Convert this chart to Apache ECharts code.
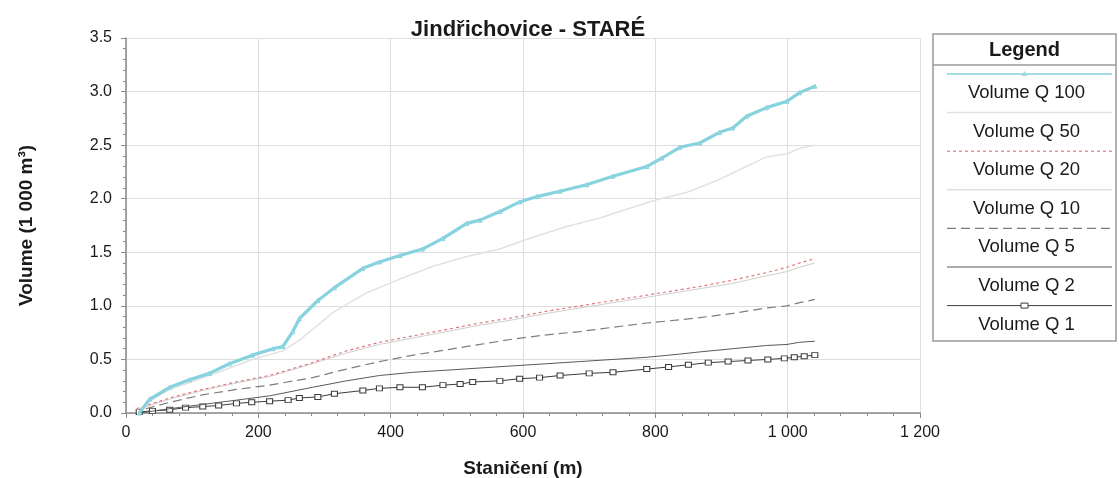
<!DOCTYPE html>
<html>
<head>
<meta charset="utf-8">
<script src="https://cdn.jsdelivr.net/npm/echarts@6/dist/echarts.min.js"></script>
<style>
  html, body { margin: 0; padding: 0; background: #fff; }
  #chart { width: 1119px; height: 478px; }
</style>
</head>
<body>
<div id="chart"></div>
<script>
// Cumulative volume (thousand m³) along the stationing (m)
const q100 = [[20,0.0],[36,0.13],[66,0.24],[96,0.31],[126,0.37],[156,0.46],[191,0.54],[222,0.60],[237,0.62],[252,0.76],[262,0.88],[290,1.05],[315,1.17],[358,1.35],[383,1.41],[414,1.47],[448,1.53],[479,1.63],[515,1.77],[535,1.80],[565,1.88],[595,1.97],[621,2.02],[656,2.07],[696,2.13],[736,2.21],[787,2.30],[810,2.38],[837,2.48],[867,2.52],[897,2.62],[917,2.66],[938,2.77],[968,2.85],[999,2.91],[1018,2.99],[1041,3.05]];
const q50 = [[20,0.0],[36,0.11],[66,0.22],[126,0.35],[191,0.50],[237,0.58],[262,0.68],[290,0.82],[313,0.94],[363,1.12],[414,1.25],[464,1.37],[515,1.46],[565,1.53],[615,1.64],[666,1.74],[716,1.82],[766,1.92],[802,1.99],[848,2.06],[897,2.18],[917,2.24],[968,2.39],[999,2.42],[1018,2.47],[1041,2.50]];
const q20 = [[16,0.04],[66,0.14],[116,0.22],[167,0.29],[217,0.35],[282,0.47],[333,0.58],[383,0.66],[434,0.72],[485,0.78],[535,0.84],[585,0.89],[636,0.95],[686,1.00],[736,1.05],[787,1.10],[837,1.15],[867,1.18],[917,1.24],[968,1.31],[999,1.36],[1018,1.40],[1041,1.44]];
const q10 = [[16,0.03],[66,0.13],[116,0.21],[167,0.28],[217,0.34],[282,0.46],[333,0.56],[383,0.64],[434,0.70],[485,0.76],[535,0.82],[585,0.87],[636,0.93],[686,0.98],[736,1.03],[787,1.08],[837,1.13],[867,1.16],[917,1.21],[968,1.28],[999,1.32],[1018,1.36],[1041,1.40]];
const q5 = [[30,0.04],[66,0.10],[116,0.17],[167,0.22],[217,0.26],[282,0.33],[333,0.41],[383,0.48],[434,0.54],[485,0.59],[535,0.64],[585,0.69],[636,0.73],[686,0.76],[736,0.80],[787,0.84],[837,0.87],[867,0.89],[917,0.93],[968,0.98],[999,1.00],[1018,1.03],[1041,1.06]];
const q2 = [[20,0.0],[66,0.04],[116,0.08],[167,0.12],[217,0.16],[282,0.24],[333,0.30],[383,0.35],[434,0.38],[485,0.40],[535,0.42],[585,0.44],[636,0.46],[686,0.48],[736,0.50],[787,0.52],[837,0.55],[867,0.57],[917,0.60],[968,0.63],[999,0.64],[1018,0.66],[1041,0.67]];
const q1 = [[20,0.01],[40,0.02],[66,0.03],[90,0.05],[116,0.06],[140,0.07],[167,0.09],[190,0.10],[217,0.11],[245,0.12],[262,0.14],[290,0.15],[315,0.18],[358,0.21],[383,0.23],[414,0.24],[448,0.24],[479,0.26],[505,0.27],[524,0.29],[565,0.30],[595,0.32],[625,0.33],[656,0.35],[700,0.37],[736,0.38],[787,0.41],[820,0.43],[850,0.45],[880,0.47],[910,0.48],[940,0.49],[970,0.50],[995,0.51],[1010,0.52],[1025,0.53],[1041,0.54]];

const seriesNames = ['Volume Q 100','Volume Q 50','Volume Q 20','Volume Q 10','Volume Q 5','Volume Q 2','Volume Q 1'];
const xTicks = [0, 200, 400, 600, 800, 1000, 1200];
const yTicks = [0, 0.5, 1.0, 1.5, 2.0, 2.5, 3.0, 3.5];

const FONT = '"Liberation Sans", Arial, Helvetica, sans-serif';

// Visual style of each series (shared by plot and legend)
const styles = [
  { color: '#86d2de', width: 3.2, type: 'solid', symbol: 'triangle', symbolSize: 4, fill: '#9fd9e2' },
  { color: '#e2e2e2', width: 1.5, type: 'solid', symbol: 'none' },
  { color: '#e07a80', width: 1.2, type: [3, 3], symbol: 'none' },
  { color: '#cfcfcf', width: 1, type: 'solid', symbol: 'none' },
  { color: '#7d7d7d', width: 1.2, type: [9, 5], symbol: 'none' },
  { color: '#5a5a5a', width: 1, type: 'solid', symbol: 'none' },
  { color: '#3c3c3c', width: 1, type: 'solid', symbol: 'rect', symbolSize: [6, 5], fill: '#ffffff' }
];
const dataSets = [q100, q50, q20, q10, q5, q2, q1];

const fmtThousands = v => String(v).replace(/\B(?=(\d{3})+(?!\d))/g, ' ');

const series = dataSets.map((d, i) => {
  const s = styles[i];
  return {
    name: seriesNames[i],
    type: 'line',
    data: d,
    z: 10 - i,
    showSymbol: s.symbol !== 'none',
    symbol: s.symbol,
    symbolSize: s.symbolSize || 4,
    lineStyle: { color: s.color, width: s.width, type: s.type },
    itemStyle: { color: s.fill || s.color, borderColor: s.color, borderWidth: 1 },
    emphasis: { disabled: true },
    animation: false
  };
});

// Boxed legend on the right: a sample line above each label
const LX = 933, LY = 34, LW = 183, LH = 307;
const legendEls = [
  { type: 'rect', shape: { x: LX, y: LY, width: LW, height: LH }, style: { fill: '#fff', stroke: '#9a9a9a', lineWidth: 1.5 } },
  { type: 'text', x: LX + LW / 2, y: LY + 16, style: { text: 'Legend', font: 'bold 20px ' + FONT, fill: '#1a1a1a', align: 'center', verticalAlign: 'middle' } },
  { type: 'line', shape: { x1: LX, y1: LY + 31, x2: LX + LW, y2: LY + 31 }, style: { stroke: '#9a9a9a', lineWidth: 1.5 } }
];
seriesNames.forEach((name, i) => {
  const s = styles[i];
  const ly = 74 + i * 38.6;
  legendEls.push({
    type: 'line',
    shape: { x1: LX + 14, y1: ly, x2: LX + LW - 4, y2: ly },
    style: { stroke: s.color, lineWidth: Math.min(s.width, 1.6), lineDash: Array.isArray(s.type) ? s.type : null }
  });
  if (s.symbol === 'rect') {
    legendEls.push({ type: 'rect', shape: { x: LX + LW / 2 - 3.5, y: ly - 2.5, width: 7, height: 5 }, style: { fill: '#fff', stroke: s.color, lineWidth: 1 } });
  } else if (s.symbol === 'triangle') {
    legendEls.push({ type: 'polygon', shape: { points: [[LX + LW / 2, ly - 3], [LX + LW / 2 - 3, ly + 2], [LX + LW / 2 + 3, ly + 2]] }, style: { fill: s.fill } });
  }
  legendEls.push({
    type: 'text', x: LX + LW / 2 + 2, y: ly + 19,
    style: { text: name, font: '18.5px ' + FONT, fill: '#1a1a1a', align: 'center', verticalAlign: 'middle' }
  });
});

const chart = echarts.init(document.getElementById('chart'), null, { renderer: 'canvas' });
chart.setOption({
  backgroundColor: '#ffffff',
  animation: false,
  title: {
    text: 'Jindřichovice - STARÉ',
    left: 523, top: 14, textAlign: 'center',
    textStyle: { fontFamily: FONT, fontSize: 22, fontWeight: 'bold', color: '#1a1a1a' }
  },
  grid: { left: 126, right: 199, top: 38, bottom: 65, containLabel: false, outerBoundsMode: 'none' },
  xAxis: {
    type: 'value', min: xTicks[0], max: xTicks[xTicks.length - 1], interval: 200,
    name: 'Staničení (m)', nameLocation: 'middle', nameGap: 46,
    nameTextStyle: { fontFamily: FONT, fontSize: 19, fontWeight: 'bold', color: '#1a1a1a' },
    axisLine: { show: true, onZero: false, lineStyle: { color: '#8a8a8a', width: 1.5 } },
    axisTick: { show: true, length: 5, lineStyle: { color: '#8a8a8a' } },
    minorTick: { show: true, splitNumber: 5, length: 3, lineStyle: { color: '#8a8a8a' } },
    axisLabel: { fontFamily: FONT, fontSize: 16, color: '#1a1a1a', margin: 12, formatter: fmtThousands },
    splitLine: { show: true, lineStyle: { color: '#dedede', width: 1 } }
  },
  yAxis: {
    type: 'value', min: yTicks[0], max: yTicks[yTicks.length - 1], interval: 0.5,
    name: 'Volume (1 000 m³)', nameLocation: 'middle', nameGap: 90, nameRotate: 90,
    nameTextStyle: { fontFamily: FONT, fontSize: 19, fontWeight: 'bold', color: '#1a1a1a' },
    axisLine: { show: true, lineStyle: { color: '#8a8a8a', width: 1.5 } },
    axisTick: { show: true, length: 5, lineStyle: { color: '#8a8a8a' } },
    minorTick: { show: true, splitNumber: 5, length: 3, lineStyle: { color: '#8a8a8a' } },
    axisLabel: { fontFamily: FONT, fontSize: 16, color: '#1a1a1a', margin: 14, formatter: v => v.toFixed(1) },
    splitLine: { show: true, lineStyle: { color: '#dedede', width: 1 } }
  },
  series: series,
  graphic: legendEls
});
</script>
</body>
</html>
